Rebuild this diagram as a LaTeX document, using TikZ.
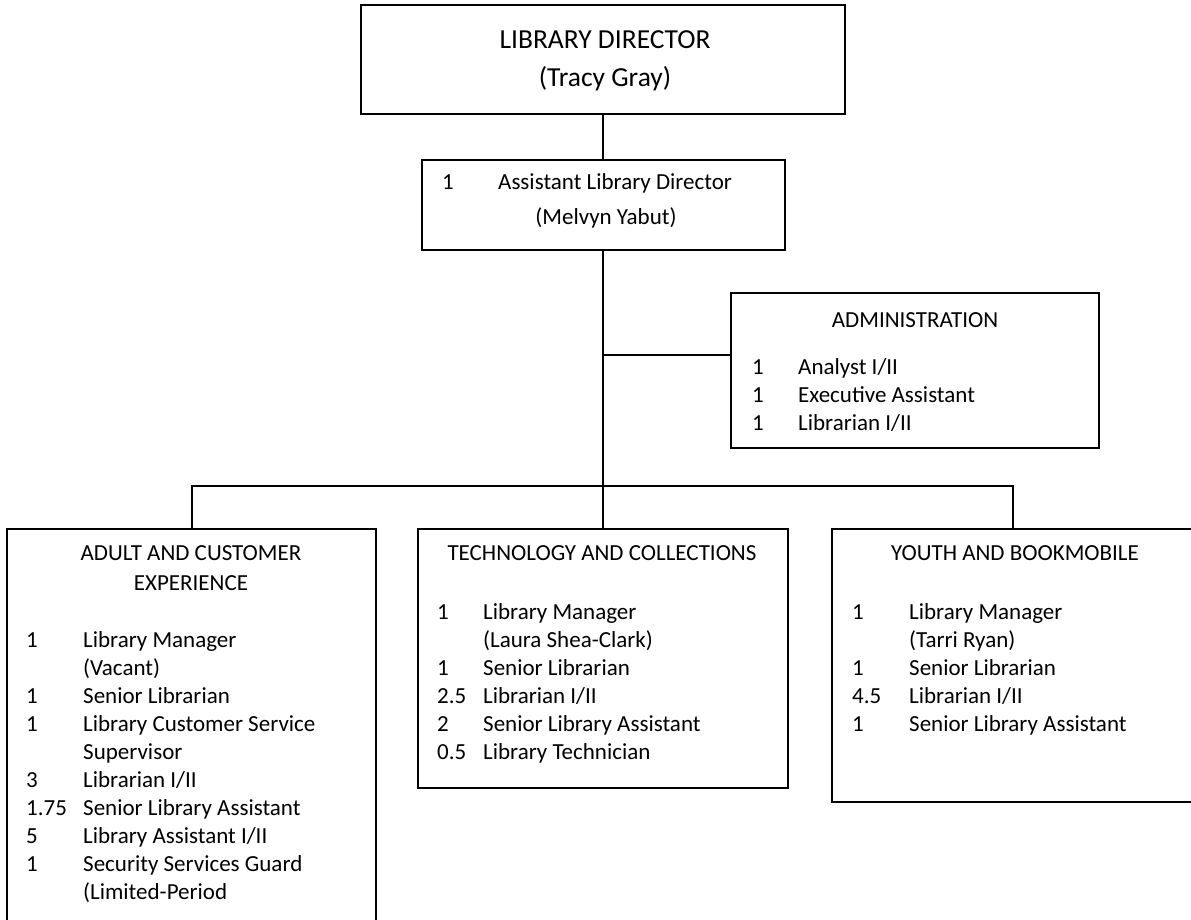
\documentclass[tikz,border=0pt]{standalone}
\usepackage{fontspec}
\setmainfont{Carlito}
\newcommand\lrow[6]{\node[txt] (#1) at (#2,#4) {\makebox[#3pt][l]{#5}#6};}
\begin{document}
\begin{tikzpicture}[x=1pt,y=-1pt,
  box/.style={draw=black, line width=2pt, rectangle, inner sep=0pt},
  conn/.style={draw=black, line width=2pt},
  txt/.style={anchor=base west, inner sep=0pt, font=\fontsize{23}{28}\selectfont},
  ctxt/.style={anchor=base, inner sep=0pt, font=\fontsize{23}{28}\selectfont},
  ttl/.style={anchor=base, inner sep=0pt, font=\fontsize{27.5}{33}\selectfont}]
\useasboundingbox (0,0) rectangle (1191,920);
\clip (0,0) rectangle (1191,920);
% boxes
\node[box, minimum width=484pt, minimum height=109pt] (dir) at (603,59.5) {};
\node[box, minimum width=363pt, minimum height=90pt] (asst) at (603,205) {};
\node[box, minimum width=368pt, minimum height=155pt] (admin) at (915,370.5) {};
\node[box, minimum width=369pt, minimum height=431pt] (adult) at (191.5,744.5) {};
\node[box, minimum width=370pt, minimum height=259pt] (tech) at (603,658.5) {};
\node[box, minimum width=361pt, minimum height=273pt] (youth) at (1012.5,665.5) {};
% connectors
\coordinate (bar) at (603,486);
\coordinate (adm) at (603,355);
\draw[conn] (dir.south) -- (asst.north);
\draw[conn] (asst.south) -- (bar);
\draw[conn] (adm) -- (admin.west |- adm);
\draw[conn] (adult.north) |- (bar) -| (youth.north);
\draw[conn] (bar) -- (tech.north);
% director
\node[ttl] (dir1) at (605,49) {LIBRARY DIRECTOR};
\node[ttl] (dir2) at (605,87) {(Tracy Gray)};
% assistant
\lrow{as1}{442}{56}{189.5}{1}{Assistant Library Director}
\node[ctxt] (as2) at (606,224.5) {(Melvyn Yabut)};
% administration
\node[ctxt] (adh) at (915,327.5) {ADMINISTRATION};
\lrow{ad1}{752}{46}{374.5}{1}{Analyst I/II}
\lrow{ad2}{752}{46}{402.5}{1}{Executive Assistant}
\lrow{ad3}{752}{46}{430.5}{1}{Librarian I/II}
% adult
\node[ctxt] (ah1) at (191,560.5) {ADULT AND CUSTOMER};
\node[ctxt] (ah2) at (191,590.5) {EXPERIENCE};
\lrow{a1}{26}{57}{647.5}{1}{Library Manager}
\lrow{a2}{26}{57}{675.5}{}{(Vacant)}
\lrow{a3}{26}{57}{703.5}{1}{Senior Librarian}
\lrow{a4}{26}{57}{731.5}{1}{Library Customer Service}
\lrow{a5}{26}{57}{759.5}{}{Supervisor}
\lrow{a6}{26}{57}{787.5}{3}{Librarian I/II}
\lrow{a7}{26}{57}{815.5}{1.75}{Senior Library Assistant}
\lrow{a8}{26}{57}{843.5}{5}{Library Assistant I/II}
\lrow{a9}{26}{57}{871.5}{1}{Security Services Guard}
\lrow{a10}{26}{57}{899.5}{}{(Limited-Period}
% technology
\node[ctxt] (th) at (602,560.5) {TECHNOLOGY AND COLLECTIONS};
\lrow{t1}{437}{46}{619.5}{1}{Library Manager}
\lrow{t2}{437}{46}{647.5}{}{(Laura Shea-Clark)}
\lrow{t3}{437}{46}{675.5}{1}{Senior Librarian}
\lrow{t4}{437}{46}{703.5}{2.5}{Librarian I/II}
\lrow{t5}{437}{46}{731.5}{2}{Senior Library Assistant}
\lrow{t6}{437}{46}{759.5}{0.5}{Library Technician}
% youth
\node[ctxt] (yh) at (1015,560.5) {YOUTH AND BOOKMOBILE};
\lrow{y1}{852}{57}{619.5}{1}{Library Manager}
\lrow{y2}{852}{57}{647.5}{}{(Tarri Ryan)}
\lrow{y3}{852}{57}{675.5}{1}{Senior Librarian}
\lrow{y4}{852}{57}{703.5}{4.5}{Librarian I/II}
\lrow{y5}{852}{57}{731.5}{1}{Senior Library Assistant}
\end{tikzpicture}
\end{document}
